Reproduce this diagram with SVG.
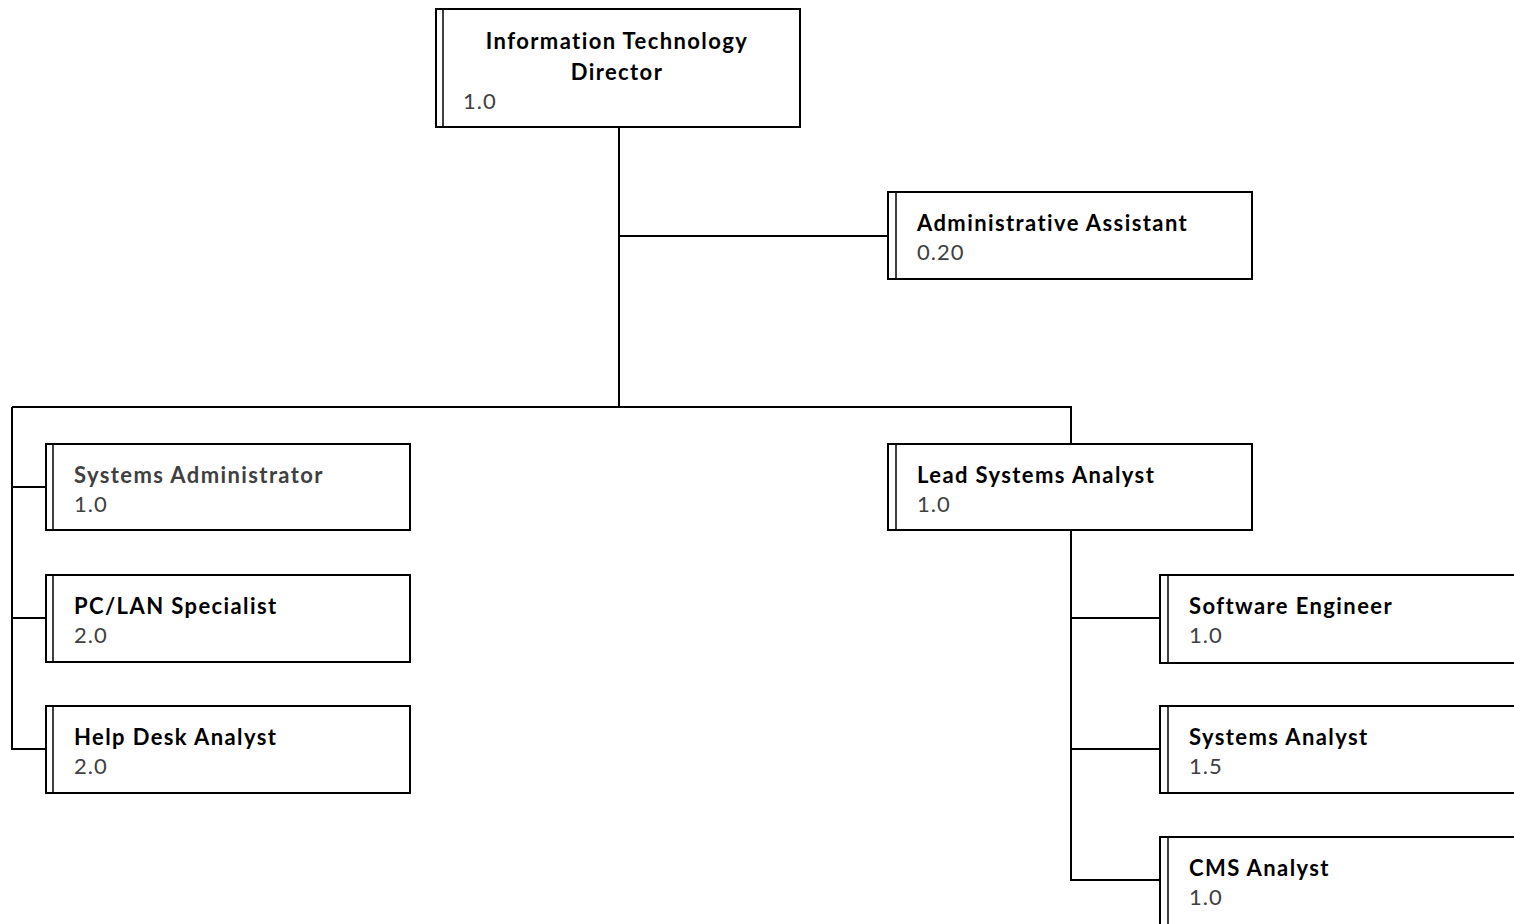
<svg xmlns="http://www.w3.org/2000/svg" width="1514" height="924" viewBox="0 0 1514 924">
<style>
.box{fill:#fff;stroke:#000;stroke-width:2}
.bar{fill:none;stroke:#000;stroke-width:1.5}
.t{font-family:Lato,"Open Sans","Liberation Sans",sans-serif;font-weight:bold;font-size:22px;fill:#000;letter-spacing:1.4px}
.n{font-family:Lato,"Open Sans","Liberation Sans",sans-serif;font-size:22px;fill:#404040;letter-spacing:1px}
.c{fill:none;stroke:#000;stroke-width:2}
</style>
<rect width="1514" height="924" fill="#fff"/>
<g id="connectors">
<path class="c" d="M619 127 V407" stroke-width="3"/>
<path class="c" d="M619 236 H888"/>
<path class="c" d="M12 407 H1071 V444"/>
<path class="c" d="M12 407 V749 H46 M12 487 H46 M12 618 H46"/>
<path class="c" d="M1071 530 V880 H1160 M1071 618 H1160 M1071 749 H1160"/>
</g>
<g id="director">
<rect class="box" x="436" y="9" width="364" height="118"/>
<line class="bar" x1="443" y1="9" x2="443" y2="127"/>
<text class="t" x="617" y="49" text-anchor="middle">Information Technology</text>
<text class="t" x="617" y="80" text-anchor="middle">Director</text>
<text class="n" x="463" y="109">1.0</text>
</g>
<g id="admin-assistant">
<rect class="box" x="888" y="192" width="364" height="87"/>
<line class="bar" x1="896" y1="192" x2="896" y2="279"/>
<text class="t" x="917" y="231">Administrative Assistant</text>
<text class="n" x="917" y="260">0.20</text>
</g>
<g id="systems-administrator">
<rect class="box" x="46" y="444" width="364" height="86"/>
<line class="bar" x1="53" y1="444" x2="53" y2="530"/>
<text class="t" x="74" y="483" style="fill:#404040">Systems Administrator</text>
<text class="n" x="74" y="512">1.0</text>
</g>
<g id="pc-lan-specialist">
<rect class="box" x="46" y="575" width="364" height="87"/>
<line class="bar" x1="53" y1="575" x2="53" y2="662"/>
<text class="t" x="74" y="614">PC/LAN Specialist</text>
<text class="n" x="74" y="643">2.0</text>
</g>
<g id="help-desk-analyst">
<rect class="box" x="46" y="706" width="364" height="87"/>
<line class="bar" x1="53" y1="706" x2="53" y2="793"/>
<text class="t" x="74" y="745">Help Desk Analyst</text>
<text class="n" x="74" y="774">2.0</text>
</g>
<g id="lead-systems-analyst">
<rect class="box" x="888" y="444" width="364" height="86"/>
<line class="bar" x1="896" y1="444" x2="896" y2="530"/>
<text class="t" x="917" y="483">Lead Systems Analyst</text>
<text class="n" x="917" y="512">1.0</text>
</g>
<g id="software-engineer">
<rect class="box" x="1160" y="575" width="364" height="88"/>
<line class="bar" x1="1168" y1="575" x2="1168" y2="663"/>
<text class="t" x="1189" y="614">Software Engineer</text>
<text class="n" x="1189" y="643">1.0</text>
</g>
<g id="systems-analyst">
<rect class="box" x="1160" y="706" width="364" height="87"/>
<line class="bar" x1="1168" y1="706" x2="1168" y2="793"/>
<text class="t" x="1189" y="745">Systems Analyst</text>
<text class="n" x="1189" y="774">1.5</text>
</g>
<g id="cms-analyst">
<rect class="box" x="1160" y="837" width="364" height="100"/>
<line class="bar" x1="1168" y1="837" x2="1168" y2="937"/>
<text class="t" x="1189" y="876">CMS Analyst</text>
<text class="n" x="1189" y="905">1.0</text>
</g>
</svg>
